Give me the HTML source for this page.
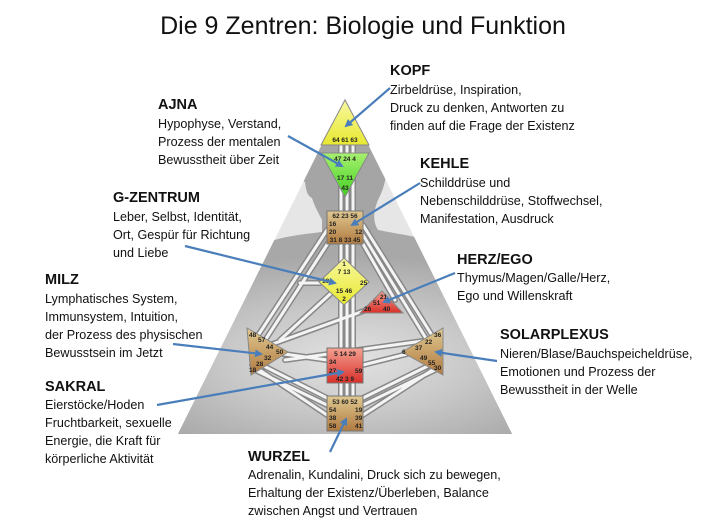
<!DOCTYPE html>
<html><head><meta charset="utf-8"><style>
html,body{margin:0;padding:0;background:#fff}
svg{display:block}
text{font-family:"Liberation Sans",sans-serif;fill:#111}
.h{font-weight:bold;font-size:14.5px}
.t{font-size:12.6px}
.g{font-size:6.5px;font-weight:bold;fill:#222}
</style></head><body>
<svg width="726" height="523" viewBox="0 0 726 523" xmlns="http://www.w3.org/2000/svg">
<defs>
<radialGradient id="inner" cx="0.5" cy="0.62" r="0.5"><stop offset="0" stop-color="#e2e2e2"/><stop offset="0.5" stop-color="#c8c8c8"/><stop offset="1" stop-color="#a8a8a8"/></radialGradient>
<linearGradient id="brown" x1="0" y1="0" x2="0" y2="1"><stop offset="0" stop-color="#e0c890"/><stop offset="1" stop-color="#b07a40"/></linearGradient>
<linearGradient id="red" x1="0" y1="0" x2="0" y2="1"><stop offset="0" stop-color="#f4a090"/><stop offset="1" stop-color="#d8302a"/></linearGradient>
<linearGradient id="yel" x1="0" y1="0" x2="0" y2="1"><stop offset="0" stop-color="#f8f8a0"/><stop offset="1" stop-color="#e8e830"/></linearGradient>
<linearGradient id="grn" x1="0" y1="0" x2="0" y2="1"><stop offset="0" stop-color="#a8f070"/><stop offset="1" stop-color="#40d020"/></linearGradient>
<clipPath id="tri"><polygon points="345,98 512,434 178,434"/></clipPath>
<marker id="ar" markerWidth="8" markerHeight="8" refX="6" refY="4" orient="auto" markerUnits="userSpaceOnUse"><path d="M0,0 L8,4 L0,8 z" fill="#4a7ebb"/></marker>
</defs>
<text x="363" y="34" text-anchor="middle" style="font-size:25px">Die 9 Zentren: Biologie und Funktion</text>

<polygon points="345,98 512,434 178,434" fill="#e6e6e6"/>
<g clip-path="url(#tri)">
<path d="M322,232 C290,236 265,238 240,258 L100,440 L600,440 L470,258 C440,238 405,236 378,230 C372,220 374,210 378,200 C386,185 390,165 383,145 C376,128 360,123 345,123 C325,123 312,135 308,150 C306,158 307,165 305,170 C302,175 301,180 305,182 C306,190 307,196 312,198 C314,205 318,212 322,220 Z" fill="#a5a5a5"/>
<path d="M322,232 C290,236 265,238 240,258 L100,440 L600,440 L470,258 C440,238 405,236 378,230 Z" fill="url(#inner)"/>
</g>

<g stroke="#888" stroke-width="6" fill="none" stroke-linecap="round">
<path d="M341,145 V410 M347,145 V410 M353,145 V410"/>
<path d="M327,230 L255,340 M330,240 L262,345 M363,225 L435,340 M363,235 L430,345 M363,244 L395,300"/>
<path d="M270,352 L327,360 M280,340 L340,285 M415,352 L363,365 M270,345 L380,305 M255,370 L327,405 M252,365 L327,415 M252,360 L327,398 M435,370 L363,405 M440,365 L363,415 M440,360 L363,398 M285,360 L430,340 M300,283 L320,283"/>
</g>
<g stroke="#f4f4f4" stroke-width="3" fill="none" stroke-linecap="round">
<path d="M341,145 V410 M347,145 V410 M353,145 V410"/>
<path d="M327,230 L255,340 M330,240 L262,345 M363,225 L435,340 M363,235 L430,345 M363,244 L395,300"/>
<path d="M270,352 L327,360 M280,340 L340,285 M415,352 L363,365 M270,345 L380,305 M255,370 L327,405 M252,365 L327,415 M252,360 L327,398 M435,370 L363,405 M440,365 L363,415 M440,360 L363,398 M285,360 L430,340 M300,283 L320,283"/>
</g>

<polygon points="345,100 369,145 321,145" fill="url(#yel)" stroke="#888" stroke-width="1"/>
<text class="g" x="345" y="142" text-anchor="middle">64 61 63</text>
<polygon points="321,153 369,153 345,197" fill="url(#grn)" stroke="#888" stroke-width="1"/>
<text class="g" x="345" y="161" text-anchor="middle">47 24 4</text>
<text class="g" x="345" y="180" text-anchor="middle">17 11</text>
<text class="g" x="345" y="190" text-anchor="middle">43</text>
<rect x="327" y="211" width="36" height="33" fill="url(#brown)" stroke="#777"/>
<text class="g" x="345" y="218" text-anchor="middle">62 23 56</text>
<text class="g" x="329" y="226">16</text><text class="g" x="329" y="234">20</text><text class="g" x="355" y="234">12</text>
<text class="g" x="345" y="242" text-anchor="middle">31 8 33 45</text>
<polygon points="344,258 369,282 344,305 319,282" fill="url(#yel)" stroke="#888"/>
<text class="g" x="344" y="266" text-anchor="middle">1</text>
<text class="g" x="344" y="274" text-anchor="middle">7 13</text>
<text class="g" x="360" y="285">25</text><text class="g" x="322" y="283">10</text>
<text class="g" x="344" y="293" text-anchor="middle">15 46</text>
<text class="g" x="344" y="301" text-anchor="middle">2</text>
<polygon points="382,291 403,313 360,313" fill="url(#red)" stroke="#888"/>
<text class="g" x="380" y="299">21</text><text class="g" x="373" y="305">51</text>
<text class="g" x="364" y="311">26</text><text class="g" x="383" y="311">40</text>
<polygon points="247,328 288,352 251,375" fill="url(#brown)" stroke="#888"/>
<text class="g" x="249" y="337">48</text><text class="g" x="258" y="342">57</text><text class="g" x="266" y="349">44</text>
<text class="g" x="276" y="354">50</text><text class="g" x="264" y="360">32</text><text class="g" x="256" y="366">28</text><text class="g" x="249" y="372">18</text>
<polygon points="443,328 402,352 443,375" fill="url(#brown)" stroke="#888"/>
<text class="g" x="434" y="337">36</text><text class="g" x="425" y="344">22</text><text class="g" x="415" y="350">37</text>
<text class="g" x="402" y="354">6</text><text class="g" x="420" y="360">49</text><text class="g" x="428" y="365">55</text><text class="g" x="434" y="370">30</text>
<rect x="327" y="348" width="36" height="35" fill="url(#red)" stroke="#777"/>
<text class="g" x="345" y="356" text-anchor="middle">5 14 29</text>
<text class="g" x="329" y="364">34</text><text class="g" x="329" y="373">27</text><text class="g" x="355" y="373">59</text>
<text class="g" x="345" y="381" text-anchor="middle">42 3 9</text>
<rect x="327" y="396" width="36" height="35" fill="url(#brown)" stroke="#777"/>
<text class="g" x="345" y="404" text-anchor="middle">53 60 52</text>
<text class="g" x="329" y="412">54</text><text class="g" x="355" y="412">19</text>
<text class="g" x="329" y="420">38</text><text class="g" x="355" y="420">39</text>
<text class="g" x="329" y="428">58</text><text class="g" x="355" y="428">41</text>

<g stroke="#4a7ebb" stroke-width="2.2" fill="none" marker-end="url(#ar)">
<line x1="390" y1="88" x2="346" y2="126"/>
<line x1="288" y1="136" x2="342" y2="166"/>
<line x1="420" y1="183" x2="352" y2="225"/>
<line x1="185" y1="246" x2="335" y2="283"/>
<line x1="455" y1="273" x2="384" y2="302"/>
<line x1="173" y1="344" x2="261" y2="354"/>
<line x1="497" y1="361" x2="436" y2="352"/>
<line x1="157" y1="405" x2="343" y2="372"/>
<line x1="330" y1="452" x2="346" y2="419"/>
</g>

<text class="h" x="390" y="75">KOPF</text>
<text class="t" x="390" y="94">Zirbeldrüse, Inspiration,</text>
<text class="t" x="390" y="112">Druck zu denken, Antworten zu</text>
<text class="t" x="390" y="130">finden auf die Frage der Existenz</text>

<text class="h" x="158" y="109">AJNA</text>
<text class="t" x="158" y="128">Hypophyse, Verstand,</text>
<text class="t" x="158" y="146">Prozess der mentalen</text>
<text class="t" x="158" y="164">Bewusstheit über Zeit</text>

<text class="h" x="420" y="168">KEHLE</text>
<text class="t" x="420" y="187">Schilddrüse und</text>
<text class="t" x="420" y="205">Nebenschilddrüse, Stoffwechsel,</text>
<text class="t" x="420" y="223">Manifestation, Ausdruck</text>

<text class="h" x="113" y="202">G-ZENTRUM</text>
<text class="t" x="113" y="221">Leber, Selbst, Identität,</text>
<text class="t" x="113" y="239">Ort, Gespür für Richtung</text>
<text class="t" x="113" y="257">und Liebe</text>

<text class="h" x="457" y="264">HERZ/EGO</text>
<text class="t" x="457" y="282">Thymus/Magen/Galle/Herz,</text>
<text class="t" x="457" y="300">Ego und Willenskraft</text>

<text class="h" x="45" y="284">MILZ</text>
<text class="t" x="45" y="303">Lymphatisches System,</text>
<text class="t" x="45" y="321">Immunsystem, Intuition,</text>
<text class="t" x="45" y="339">der Prozess des physischen</text>
<text class="t" x="45" y="357">Bewusstsein im Jetzt</text>

<text class="h" x="500" y="339">SOLARPLEXUS</text>
<text class="t" x="500" y="358">Nieren/Blase/Bauchspeicheldrüse,</text>
<text class="t" x="500" y="376">Emotionen und Prozess der</text>
<text class="t" x="500" y="394">Bewusstheit in der Welle</text>

<text class="h" x="45" y="391">SAKRAL</text>
<text class="t" x="45" y="409">Eierstöcke/Hoden</text>
<text class="t" x="45" y="427">Fruchtbarkeit, sexuelle</text>
<text class="t" x="45" y="445">Energie, die Kraft für</text>
<text class="t" x="45" y="463">körperliche Aktivität</text>

<text class="h" x="248" y="461">WURZEL</text>
<text class="t" x="248" y="479">Adrenalin, Kundalini, Druck sich zu bewegen,</text>
<text class="t" x="248" y="497">Erhaltung der Existenz/Überleben, Balance</text>
<text class="t" x="248" y="515">zwischen Angst und Vertrauen</text>
</svg>
</body></html>
